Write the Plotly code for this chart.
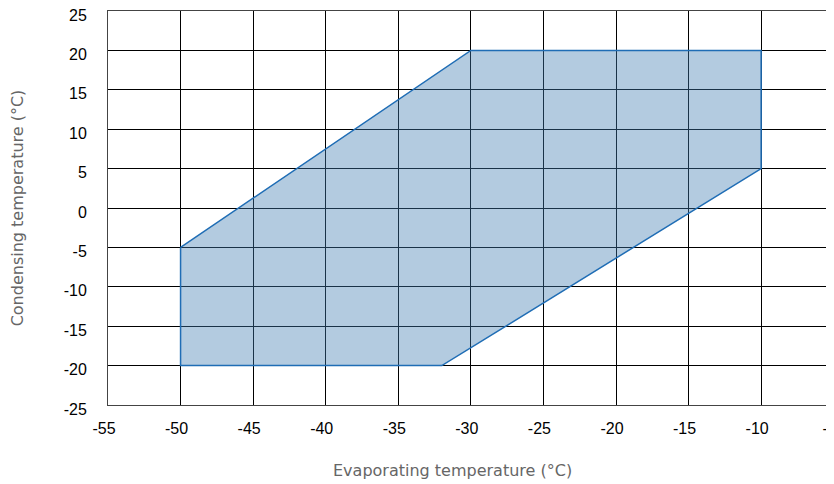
import plotly.graph_objects as go

# Operating envelope polygon (evaporating °C, condensing °C)
evap = [-50, -30, -10, -10, -32, -50, -50]
cond = [-5, 20, 20, 5, -20, -20, -5]

x_ticks = [-55, -50, -45, -40, -35, -30, -25, -20, -15, -10, -5]
y_ticks = [-25, -20, -15, -10, -5, 0, 5, 10, 15, 20, 25]

x_title = "Evaporating temperature (°C)"
y_title = "Condensing temperature (°C)"

fig = go.Figure()
fig.add_trace(go.Scatter(
    x=evap, y=cond, mode="lines", fill="toself",
    fillcolor="rgba(65,125,178,0.4)",
    line=dict(color="#1f6db5", width=1.5),
    hoverinfo="skip", showlegend=False,
))

axis_common = dict(
    showgrid=True, gridcolor="#000000", gridwidth=1,
    zeroline=False, showline=True, mirror=True, linecolor="#444444", linewidth=1,
    tickfont=dict(family="Liberation Sans, Arial, sans-serif", size=16, color="#000000"),
    ticks="", automargin=False, ticklabeloverflow="allow",
)
title_font = dict(family="DejaVu Sans, sans-serif", size=16, color="#666666")

fig.update_xaxes(
    range=[-55, -4.98], tickvals=x_ticks, ticktext=[str(v) for v in x_ticks],
    ticklabelstandoff=9, ticklabelshift=-4,
    **axis_common,
)
fig.update_yaxes(
    range=[-25, 25], tickvals=y_ticks, ticktext=[str(v) for v in y_ticks],
    ticklabelstandoff=17, ticklabelshift=4,
    title=dict(text=y_title, standoff=46, font=title_font),
    **axis_common,
)

fig.add_annotation(
    text=x_title, xref="paper", yref="paper", x=0.475, y=-0.165,
    xanchor="center", yanchor="middle", showarrow=False, font=title_font,
)

fig.update_layout(
    width=834, height=476,
    margin=dict(l=100, r=8, t=3, b=79),
    plot_bgcolor="white", paper_bgcolor="white",
)

fig.write_html("out.html")
